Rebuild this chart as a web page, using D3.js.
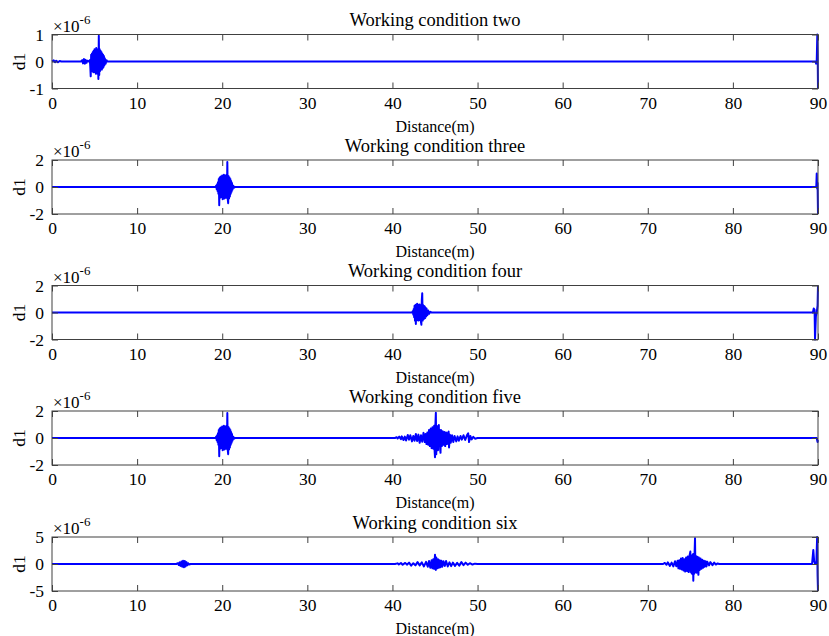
<!DOCTYPE html>
<html><head><meta charset="utf-8">
<script src="https://cdn.jsdelivr.net/npm/d3@7"></script>
<style>body{margin:0;background:#fff}svg{display:block}text{font-family:"Liberation Serif","Times New Roman",serif;fill:#000}</style>
</head><body><svg id="c" width="829" height="636"></svg>
<script>
const titles = ["Working condition two","Working condition three","Working condition four","Working condition five","Working condition six"];
const xTicks = [0,10,20,30,40,50,60,70,80,90];
const yLimits = [1,2,2,2,5];
const yTicksList = [[-1,0,1],[-2,0,2],[-2,0,2],[-2,0,2],[-5,0,5]];

// values in units of 1e-6, [distance(m), d1]
const wc2 = [
[0,0],[0.2,0.04],[0.35,-0.03],[0.5,0.03],[0.7,-0.03],[0.9,0.02],[1.1,0],
[3.4,0],[3.55,0.05],[3.65,-0.07],[3.75,0.09],[3.85,-0.08],[3.95,0.06],[4.05,-0.05],[4.15,0.03],[4.3,0],
[4.45,0.05],[4.5,-0.2],[4.55,-0.55],[4.6,0.25],[4.65,-0.3],[4.7,0.3],[4.75,-0.35],[4.8,0.35],[4.85,-0.4],[4.9,0.4],[4.95,-0.35],[5.0,0.45],[5.05,-0.4],[5.1,0.4],[5.15,-0.45],[5.2,0.5],[5.25,-0.4],[5.3,0.45],[5.35,-0.45],[5.4,0.4],[5.45,-0.65],[5.5,0.95],[5.55,-0.5],[5.6,0.45],[5.65,-0.35],[5.7,0.4],[5.75,-0.3],[5.8,0.35],[5.85,-0.3],[5.9,0.3],[5.95,-0.25],[6.0,0.25],[6.05,-0.2],[6.1,0.2],[6.15,-0.15],[6.2,0.12],[6.3,-0.08],[6.4,0.05],[6.5,0],
[89.7,0],[89.78,-0.08],[89.85,0],[89.92,1.0],[89.96,0.3],[90,-1.0]
];
const wc3 = [
[0,0],[19.2,0],[19.3,0.1],[19.35,-0.15],[19.4,0.2],[19.45,-0.3],[19.5,0.35],[19.55,-0.5],[19.6,0.6],[19.65,-1.35],[19.7,0.7],[19.75,-0.8],[19.8,0.75],[19.85,-0.7],[19.9,0.8],[19.95,-0.75],[20.0,0.85],[20.05,-0.9],[20.1,0.8],[20.15,-0.8],[20.2,0.9],[20.25,-0.85],[20.3,0.8],[20.35,-0.75],[20.4,0.85],[20.45,-0.8],[20.5,0.9],[20.55,-0.8],[20.6,1.85],[20.65,-0.9],[20.7,-1.2],[20.75,0.8],[20.8,-0.85],[20.85,0.7],[20.9,-0.7],[20.95,0.6],[21.0,-0.5],[21.05,0.45],[21.1,-0.35],[21.15,0.3],[21.2,-0.2],[21.3,0.1],[21.4,-0.05],[21.5,0],
[89.8,0],[89.85,1.0],[89.9,-0.1],[89.95,0.3],[90,-2]
];
const wc4 = [
[0,0],[42.3,0],[42.4,0.1],[42.45,-0.15],[42.5,0.25],[42.55,-0.35],[42.6,0.5],[42.65,-0.6],[42.7,0.55],[42.75,-0.85],[42.8,0.6],[42.85,-0.5],[42.9,0.65],[42.95,-0.55],[43.0,0.6],[43.05,-0.6],[43.1,0.55],[43.15,-0.5],[43.2,0.6],[43.25,-0.55],[43.3,0.5],[43.35,-0.7],[43.4,-0.9],[43.45,0.9],[43.5,1.43],[43.55,-0.6],[43.6,0.55],[43.65,-0.5],[43.7,0.5],[43.75,-0.45],[43.8,0.45],[43.85,-0.4],[43.9,0.35],[43.95,-0.3],[44.0,0.3],[44.1,-0.2],[44.2,0.15],[44.3,-0.1],[44.45,0.05],[44.6,0],
[89.4,0],[89.5,0.3],[89.6,0.2],[89.65,-2],[89.75,-0.3],[89.85,0],[89.95,0.5],[90,2]
];
const wc5 = [
[0,0],[19.2,0],[19.3,0.1],[19.35,-0.15],[19.4,0.2],[19.45,-0.3],[19.5,0.35],[19.55,-0.5],[19.6,0.6],[19.65,-1.35],[19.7,0.7],[19.75,-0.8],[19.8,0.75],[19.85,-0.7],[19.9,0.8],[19.95,-0.75],[20.0,0.85],[20.05,-0.9],[20.1,0.8],[20.15,-0.8],[20.2,0.9],[20.25,-0.85],[20.3,0.8],[20.35,-0.75],[20.4,0.85],[20.45,-0.8],[20.5,0.9],[20.55,-0.8],[20.6,1.85],[20.65,-0.9],[20.7,-1.2],[20.75,0.8],[20.8,-0.85],[20.85,0.7],[20.9,-0.7],[20.95,0.6],[21.0,-0.5],[21.05,0.45],[21.1,-0.35],[21.15,0.3],[21.2,-0.2],[21.3,0.1],[21.4,-0.05],[21.5,0],
[40.3,0],[40.5,0.06],[40.6,-0.04],[40.8,0.1],[41.0,-0.08],[41.1,0.12],[41.3,-0.15],[41.45,0.1],[41.6,-0.18],[41.8,0.22],[41.95,-0.12],[42.1,0.2],[42.3,-0.25],[42.45,0.15],[42.6,-0.2],[42.75,0.3],[42.9,-0.22],[43.05,0.25],[43.2,-0.35],[43.35,0.2],[43.5,-0.28],[43.65,0.38],[43.8,-0.3],[43.9,0.3],[44.0,-0.45],[44.1,0.4],[44.2,-0.5],[44.3,0.6],[44.4,-0.6],[44.5,0.7],[44.6,-0.75],[44.7,0.8],[44.8,-0.8],[44.9,0.9],[44.95,-0.9],[45.0,-1.43],[45.05,1.0],[45.1,1.87],[45.15,-1.2],[45.2,0.9],[45.25,-0.8],[45.3,0.7],[45.35,-0.9],[45.4,0.6],[45.45,0.96],[45.5,-0.6],[45.55,0.6],[45.6,-0.8],[45.65,-1.1],[45.7,0.6],[45.8,-0.6],[45.9,0.5],[46.0,-0.5],[46.1,0.45],[46.2,-0.6],[46.3,0.4],[46.4,-0.45],[46.5,0.35],[46.6,0.47],[46.65,-0.7],[46.75,0.25],[46.85,-0.35],[47.0,0.2],[47.15,-0.3],[47.3,0.15],[47.5,-0.25],[47.65,0.12],[47.8,-0.2],[48.0,0.15],[48.15,-0.12],[48.35,0.2],[48.55,-0.15],[48.75,0.2],[48.9,0.35],[49.0,-0.3],[49.15,0.15],[49.3,-0.1],[49.5,0.08],[49.7,-0.05],[50.0,0],
[89.85,0],[89.95,-0.3],[90,-0.15]
];
const wc6 = [
[0,0],[14.6,0],[14.8,0.15],[14.9,-0.2],[15.0,0.3],[15.1,-0.35],[15.2,0.45],[15.3,-0.5],[15.4,0.6],[15.5,-0.6],[15.6,0.55],[15.7,-0.45],[15.8,0.35],[15.9,-0.25],[16.0,0.15],[16.1,-0.1],[16.3,0],
[40.3,0],[40.6,0.12],[40.75,-0.08],[41.0,0.18],[41.2,-0.15],[41.5,0.2],[41.7,-0.12],[41.95,0.25],[42.2,-0.3],[42.45,0.15],[42.7,-0.25],[42.95,0.35],[43.2,-0.25],[43.45,0.3],[43.7,-0.45],[43.95,0.4],[44.15,-0.5],[44.3,0.55],[44.45,-0.7],[44.6,0.7],[44.7,-0.8],[44.8,0.9],[44.9,-0.9],[45.0,1.7],[45.05,-0.9],[45.1,-1.1],[45.15,1.2],[45.25,-0.8],[45.35,0.9],[45.45,-0.7],[45.55,0.7],[45.65,-0.6],[45.75,0.6],[45.85,-0.5],[46.0,0.5],[46.15,-0.35],[46.3,0.55],[46.5,-0.45],[46.7,0.3],[46.9,-0.4],[47.1,0.25],[47.35,-0.35],[47.6,0.2],[47.85,-0.3],[48.1,0.35],[48.35,-0.2],[48.6,0.25],[48.85,-0.15],[49.1,0.15],[49.4,-0.1],[49.7,0.06],[50.0,0],
[71.8,0],[72.0,0.2],[72.2,-0.15],[72.35,0.3],[72.6,-0.35],[72.8,0.25],[73.0,-0.45],[73.2,0.5],[73.35,-0.4],[73.5,0.6],[73.6,-0.8],[73.7,0.7],[73.8,-0.9],[73.9,1.0],[74.0,-1.0],[74.1,1.1],[74.2,-1.2],[74.3,0.9],[74.4,-1.4],[74.5,1.2],[74.6,-1.3],[74.7,1.4],[74.8,-1.5],[74.9,1.5],[75.0,2.3],[75.05,-1.5],[75.1,1.6],[75.15,-1.7],[75.2,1.6],[75.25,-1.9],[75.3,1.8],[75.35,-3.1],[75.4,1.9],[75.45,-1.8],[75.5,2.0],[75.55,4.76],[75.6,-1.5],[75.65,1.5],[75.7,-1.6],[75.75,1.4],[75.8,-1.5],[75.85,1.3],[75.9,-1.4],[75.95,-2.0],[76.0,1.2],[76.1,-1.1],[76.2,1.0],[76.3,-0.9],[76.4,0.8],[76.5,-0.7],[76.6,0.6],[76.7,-0.5],[76.8,0.5],[76.9,-0.45],[77.0,0.4],[77.2,-0.25],[77.35,0.35],[77.6,-0.2],[77.8,0.25],[78.0,-0.1],[78.2,0.1],[78.4,0],
[89.3,0],[89.45,2.6],[89.55,0.5],[89.65,0],[89.8,0],[89.9,5],[89.95,-2],[90,-5]
];
const series = [wc2, wc3, wc4, wc5, wc6];

const svg = d3.select("#c");
const left = 52, right = 818, h = 54;
const tops = [34.5, 160, 285.5, 411, 537];
const axisColor = "#404040";
const x = d3.scaleLinear().domain([0,90]).range([left,right]);

series.forEach((data, i) => {
  const top = tops[i], bottom = top + h;
  const lim = yLimits[i];
  const y = d3.scaleLinear().domain([-lim, lim]).range([bottom, top]);
  const g = svg.append("g");

  g.append("path").datum(data)
    .attr("fill","none").attr("stroke","#0000ff").attr("stroke-width",2)
    .attr("stroke-linejoin","round")
    .attr("d", d3.line().x(d => x(d[0])).y(d => y(d[1])));

  const xb = g.append("g").attr("transform",`translate(0,${bottom})`)
    .call(d3.axisBottom(x).tickValues(xTicks).tickSize(-6).tickPadding(9).tickFormat(d3.format("d")));
  const xt = g.append("g").attr("transform",`translate(0,${top})`)
    .call(d3.axisTop(x).tickValues(xTicks).tickSize(-6).tickFormat(""));
  const yl = g.append("g").attr("transform",`translate(${left},0)`)
    .call(d3.axisLeft(y).tickValues(yTicksList[i]).tickSize(-6).tickPadding(8).tickFormat(d3.format("d")));
  const yr = g.append("g").attr("transform",`translate(${right},0)`)
    .call(d3.axisRight(y).tickValues(yTicksList[i]).tickSize(-6).tickFormat(""));
  [xb,xt,yl,yr].forEach(a => {
    a.select(".domain").remove();
    a.selectAll("line").attr("stroke",axisColor).attr("stroke-width",1);
    a.selectAll("text").attr("font-family",'"Liberation Serif",serif').attr("font-size",17.5).attr("fill","#000");
  });
  xb.selectAll("text").attr("dy","0.65em");
  yl.selectAll("text").text(d => d < 0 ? "-" + Math.abs(d) : d);

  g.append("rect").attr("x",left).attr("y",top).attr("width",right-left).attr("height",h)
    .attr("fill","none").attr("stroke",axisColor).attr("stroke-width",1);

  g.append("text").attr("x",(left+right)/2).attr("y",top-8.5).attr("text-anchor","middle")
    .attr("font-size",18.5).text(titles[i]);
  const ex = g.append("text").attr("x",left+1).attr("y",top-3).attr("font-size",17);
  ex.append("tspan").text("\u00d710");
  ex.append("tspan").attr("font-size",13).attr("dy",-8).text("-6");
  g.append("text").attr("transform",`translate(${left-27},${(top+bottom)/2}) rotate(-90)`)
    .attr("text-anchor","middle").attr("font-size",17.5).text("d1");
  g.append("text").attr("x",(left+right)/2).attr("y",bottom+43).attr("text-anchor","middle")
    .attr("font-size",16).text("Distance(m)");
});
</script></body></html>
